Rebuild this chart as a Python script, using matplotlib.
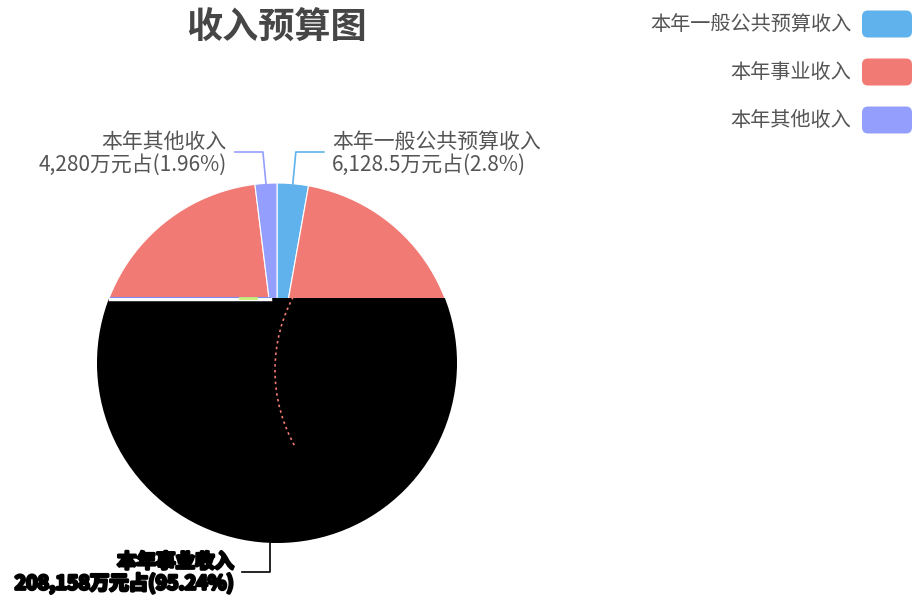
import matplotlib
matplotlib.use('Agg')
import matplotlib.pyplot as plt
from matplotlib.patches import Rectangle, Circle, FancyBboxPatch, Arc
import matplotlib.patheffects as pe
import math

plt.rcParams['font.family'] = ['Noto Sans CJK SC', 'DejaVu Sans']

# data
names = ['本年一般公共预算收入', '本年事业收入', '本年其他收入']
values = [6128.5, 208158, 4280]
colors = ['#5fb2eb', '#f27a74', '#949ffd']
title = '收入预算图'

W, H = 921, 599
fig = plt.figure(figsize=(W / 100, H / 100), dpi=100)
ax = fig.add_axes([0, 0, 1, 1])

def py(y):
    # pixel row -> data y
    return H - y

cx, cy, r = 277, py(363), 180
wedges, _ = ax.pie(values, colors=colors, startangle=90, counterclock=False,
                   center=(cx, cy), radius=r, frame=True,
                   wedgeprops=dict(edgecolor='white', linewidth=0.8))
ax.set_xlim(0, W)
ax.set_ylim(0, H)
ax.set_aspect('equal')
ax.axis('off')

# rendering glitch: black fill over the lower part of the pie
clip = Circle((cx, cy), r, transform=ax.transData)
blk = Rectangle((cx - r - 5, cy - r - 5), 2 * r + 10, (cy + 65) - (cy - r - 5),
                facecolor='black', edgecolor='none', zorder=3)
ax.add_patch(blk)
blk.set_clip_path(clip)
ax.plot([110, 270], [py(298.5), py(298.5)], color='white', lw=2.5, zorder=4)
ax.plot([110, 270], [py(297), py(297)], color='#7f8cf0', lw=0.8, zorder=4)
ax.plot([240, 256], [py(298), py(298)], color='#c8f07a', lw=2, zorder=4)
ax.add_patch(Arc((431, py(370)), 312, 312, theta1=150, theta2=210,
                 color=colors[1], lw=1.2, ls=(0, (1.5, 2)), zorder=4))

total = sum(values)
start = 90
for i, v in enumerate(values):
    ang = 360 * v / total
    mid = start - ang / 2
    start -= ang
    pct = f"{round(v / total * 100, 2):g}"
    txt = f"{names[i]}\n{v:,g}万元占({pct}%)"
    ex = cx + r * math.cos(math.radians(mid))
    ey = cy + r * math.sin(math.radians(mid))
    if ey > cy:
        ly = py(152)
        side = 1 if ex > cx else -1
        hx = ex + side * 3 + side * 28
        ax.plot([ex, ex + side * 3, hx], [ey, ly, ly], color=colors[i], lw=1.2, zorder=5)
        ax.text(hx + side * 8, ly - 1, txt, ha='left' if side > 0 else 'right',
                va='center', fontsize=15, color='#555555', linespacing=1.05, zorder=6)
    else:
        ly = py(572)
        ax.plot([ex - 2, ex - 2, ex - 30], [ey, ly, ly], color='black', lw=1.2, zorder=5)
        ax.text(ex - 38, ly - 1, txt, ha='right', va='center', fontsize=14,
                color='black', fontweight='bold', linespacing=1.05, zorder=6,
                path_effects=[pe.withStroke(linewidth=2, foreground='black')])

ax.text(277, py(28), title, ha='center', va='center', fontsize=26,
        fontweight='bold', color='#464646')

for i, n in enumerate(names):
    yc = py(24 + 48 * i)
    ax.text(851, yc, n, ha='right', va='center', fontsize=14.5, color='#555555')
    ax.add_patch(FancyBboxPatch((864, yc - 11.5), 46, 23,
                                boxstyle='round,pad=2,rounding_size=6',
                                facecolor=colors[i], edgecolor='none'))

fig.savefig('out.png', dpi=100)
